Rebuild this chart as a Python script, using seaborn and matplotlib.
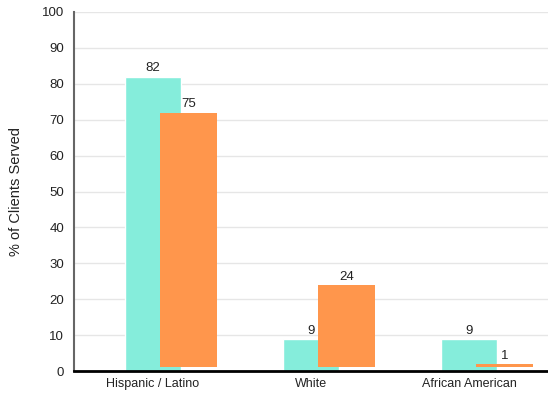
import matplotlib
matplotlib.use("Agg")
import matplotlib.pyplot as plt
import seaborn as sns
import pandas as pd
import numpy as np

categories = ["Hispanic / Latino", "White", "African American"]
teal_values = [82, 9, 9]
orange_labels = [75, 24, 1]
orange_tops = [72, 24, 2]
orange_base = 1.2

sns.set_style("white")
plt.rcParams["font.family"] = ["Liberation Sans", "DejaVu Sans"]

fig = plt.figure(figsize=(5.48, 3.98), dpi=100)
ax = fig.add_axes([74 / 548, 27 / 398, (548 - 74) / 548, (371 - 12) / 398])

df = pd.DataFrame({"cat": categories, "val": teal_values})
sns.barplot(data=df, x="cat", y="val", color="#85EDDB", saturation=1,
            width=0.36, ax=ax, zorder=2)

pos = np.arange(len(categories))
heights = [t - orange_base for t in orange_tops]
ax.bar(pos + 0.225, heights, bottom=orange_base, width=0.36,
       color="#FF964C", zorder=3, linewidth=0)

for i, v in enumerate(teal_values):
    ax.text(i, v + 0.6, str(v), ha="center", va="bottom", fontsize=9.5, color="#222222")
for i, (lab, top) in enumerate(zip(orange_labels, orange_tops)):
    ax.text(i + 0.225, top + 0.6, str(lab), ha="center", va="bottom", fontsize=9.5, color="#222222")

ax.set_xlim(-0.5, 2.5)
ax.set_ylim(0, 100)
ax.set_yticks(range(0, 101, 10))
ax.yaxis.grid(True, color="#e6e6e6", linewidth=1, zorder=0)
ax.set_axisbelow(True)
ax.set_xlabel("")
ax.set_ylabel("% of Clients Served", fontsize=10.5, color="#222222", labelpad=14)
ax.tick_params(axis="y", length=4, width=1, color="#555555", labelsize=9.5, labelcolor="#222222", pad=3)
ax.tick_params(axis="x", length=0, labelsize=9, labelcolor="#222222", pad=5)
for s in ["top", "right"]:
    ax.spines[s].set_visible(False)
ax.spines["left"].set_color("#666666")
ax.spines["left"].set_linewidth(1.5)
ax.spines["bottom"].set_color("#000000")
ax.spines["bottom"].set_linewidth(2)

fig.savefig("out.png", dpi=100)
